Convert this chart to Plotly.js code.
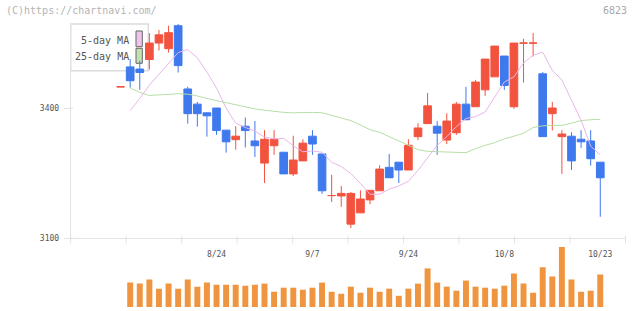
<!DOCTYPE html>
<html>
<head>
<meta charset="utf-8">
<script src="https://cdn.plot.ly/plotly-3.0.1.min.js"></script>
<style>
  html, body { margin: 0; padding: 0; background: #fff; }
  #chart { width: 640px; height: 311px; }
</style>
</head>
<body>
<div id="chart"></div>
<script>
// Daily prices, oldest session first (session 0 is the carry-over day before the window)
const openP  = [3449, 3495, 3490, 3512, 3550, 3537, 3590, 3444, 3409, 3389, 3400, 3349, 3327, 3358, 3324, 3273, 3313, 3298, 3248, 3278, 3335,
                3294, 3198, 3197, 3132, 3158, 3188, 3209, 3263, 3275, 3257, 3334, 3364, 3358, 3326, 3343, 3409, 3403, 3442, 3472, 3520,
                3403, 3550, 3550, 3479, 3387, 3334, 3335, 3328, 3324, 3275];
const highP  = [3449, 3513, 3509, 3573, 3580, 3590, 3594, 3449, 3414, 3389, 3400, 3349, 3358, 3378, 3370, 3349, 3349, 3298, 3336, 3328, 3349,
                3294, 3246, 3220, 3206, 3210, 3210, 3268, 3294, 3275, 3328, 3365, 3435, 3370, 3388, 3414, 3449, 3465, 3513, 3543, 3520,
                3550, 3560, 3573, 3483, 3414, 3349, 3344, 3349, 3349, 3275];
const lowP   = [3449, 3447, 3442, 3489, 3533, 3528, 3482, 3364, 3357, 3334, 3338, 3297, 3304, 3309, 3287, 3227, 3292, 3248, 3243, 3278, 3292,
                3202, 3183, 3172, 3123, 3158, 3178, 3209, 3239, 3227, 3257, 3326, 3364, 3292, 3317, 3338, 3373, 3403, 3428, 3472, 3442,
                3398, 3459, 3519, 3334, 3348, 3248, 3257, 3308, 3267, 3149];
const closeP = [3449, 3463, 3482, 3550, 3569, 3574, 3498, 3387, 3387, 3382, 3348, 3322, 3335, 3348, 3313, 3328, 3328, 3248, 3280, 3319, 3317,
                3209, 3198, 3203, 3203, 3190, 3210, 3259, 3239, 3257, 3314, 3354, 3405, 3342, 3370, 3409, 3373, 3460, 3513, 3543, 3452,
                3550, 3550, 3550, 3334, 3400, 3340, 3278, 3322, 3283, 3239];

// Moving averages
const ma5  = [null, 3394, 3422, 3453, 3478, 3503, 3528, 3535, 3516, 3483, 3446, 3400, 3365, 3355, 3347, 3333, 3329, 3330, 3313, 3299, 3301,
              3298, 3275, 3265, 3249, 3226, 3201, 3201, 3213, 3220, 3231, 3256, 3285, 3314, 3334, 3357, 3376, 3380, 3391, 3425, 3460,
              3472, 3504, 3522, 3529, 3487, 3465, 3418, 3372, 3312, 3292];
const ma25 = [null, 3446, 3436, 3429, 3430, 3431, 3433, 3432, 3428, 3422, 3417, 3412, 3407, 3403, 3398, 3395, 3392, 3390, 3389, 3390, 3390,
              3389, 3383, 3377, 3371, 3361, 3350, 3344, 3334, 3324, 3313, 3304, 3300, 3299, 3298, 3298, 3297, 3306, 3314, 3320, 3329,
              3335, 3342, 3355, 3359, 3360, 3360, 3365, 3371, 3373, 3374];

// Traded volume (shares)
const volume = [null, 7200, 6900, 8100, 5400, 6900, 5400, 8100, 6000, 7200, 6600, 6600, 6600, 6300, 6600, 6900, 4500, 5700, 5700, 5100, 5700,
                7200, 4500, 3900, 6000, 4200, 5700, 4500, 5400, 3300, 5400, 6900, 11400, 7200, 6000, 4800, 7800, 6000, 5700, 5400, 6300,
                9900, 6900, 4200, 11700, 9000, 17700, 8100, 4500, 4800, 9600];

// Axis labels
const dateTickPos  = [10, 20, 30, 40, 50];
const dateTickText = ['8/24', '9/7', '9/24', '10/8', '10/23'];
const priceTicks   = [3100, 3400];

const W = 640, H = 311;
const PL = 70.7, PR = 625.5;          // plot left / right (px)
const PT = 24, PB = 238;              // price pane top / bottom (px)
const VT = 247, VB = 307;             // volume pane top / bottom (px)

const RED = '#f2533f', BLUE = '#3f79ee', ORANGE = '#f0953f';
const AXIS = '#e3e3e3', TXT = '#555';
const MONO = 'DejaVu Sans Mono, monospace';

const session = openP.map((_, i) => i);
const rising = session.map(i => closeP[i] >= openP[i]);
const only = (arr, up) => arr.map((v, i) => (rising[i] === up ? v : null));

function candles(up, color) {
  const side = { line: { color: color, width: 1 }, fillcolor: color };
  return {
    type: 'candlestick', x: session,
    open: only(openP, up), high: only(highP, up), low: only(lowP, up), close: only(closeP, up),
    increasing: side, decreasing: side, whiskerwidth: 0,
    hoverinfo: 'skip', showlegend: false, xaxis: 'x', yaxis: 'y'
  };
}

const traces = [
  { type: 'scatter', mode: 'lines', x: session, y: ma25, line: { color: '#b7dea6', width: 1 },
    hoverinfo: 'skip', showlegend: false, xaxis: 'x', yaxis: 'y' },
  { type: 'scatter', mode: 'lines', x: session, y: ma5, line: { color: '#e8b6e9', width: 1 },
    hoverinfo: 'skip', showlegend: false, xaxis: 'x', yaxis: 'y' },
  candles(true, RED),
  candles(false, BLUE),
  { type: 'bar', x: session, y: volume, marker: { color: ORANGE, line: { width: 0 } },
    hoverinfo: 'skip', showlegend: false, xaxis: 'x', yaxis: 'y2' }
];

const px = v => v / W;
const py = v => 1 - v / H;

const shapes = [];
// legend frame and swatches
shapes.push({ type: 'rect', layer: 'below', xref: 'paper', yref: 'paper',
  x0: px(PL), x1: px(148.3), y0: py(70.7), y1: py(PT), fillcolor: '#fff', line: { color: '#dcdcdc', width: 1.5 } });
shapes.push({ type: 'rect', layer: 'below', xref: 'paper', yref: 'paper',
  x0: px(136), x1: px(142.3), y0: py(46.7), y1: py(31), fillcolor: '#eec4ee', line: { color: '#666', width: 1 } });
shapes.push({ type: 'rect', layer: 'below', xref: 'paper', yref: 'paper',
  x0: px(136), x1: px(142.3), y0: py(63.3), y1: py(48.3), fillcolor: '#c2e2b2', line: { color: '#666', width: 1 } });
// evenly spaced tick marks across the time axis
for (let k = 0; k <= 10; k++) {
  const xp = px(PL + k * (PR - PL) / 10);
  shapes.push({ type: 'line', xref: 'paper', yref: 'paper', ysizemode: 'pixel', yanchor: py(PB),
    x0: xp, x1: xp, y0: -5.5, y1: 2.5, line: { color: AXIS, width: 1 } });
}
// inner stubs of the price ticks
priceTicks.forEach(v => {
  shapes.push({ type: 'line', yref: 'y', xref: 'paper', xsizemode: 'pixel', xanchor: px(PL),
    y0: v, y1: v, x0: 0, x1: 2.5, line: { color: AXIS, width: 1 } });
});

const annotations = [
  { text: '(C)https://chartnavi.com/', xref: 'paper', yref: 'paper', x: px(4), y: py(11),
    xanchor: 'left', yanchor: 'middle', showarrow: false, font: { family: MONO, size: 10, color: '#b4b4b4' } },
  { text: '6823', xref: 'paper', yref: 'paper', x: px(629), y: py(11),
    xanchor: 'right', yanchor: 'middle', showarrow: false, font: { family: MONO, size: 10, color: '#a8a8a8' } },
  { text: '5-day MA', xref: 'paper', yref: 'paper', x: px(131), y: py(40),
    xanchor: 'right', yanchor: 'middle', showarrow: false, font: { family: MONO, size: 10, color: TXT } },
  { text: '25-day MA', xref: 'paper', yref: 'paper', x: px(131), y: py(56.5),
    xanchor: 'right', yanchor: 'middle', showarrow: false, font: { family: MONO, size: 10, color: TXT } }
];

const layout = {
  width: W, height: H,
  margin: { l: 0, r: 0, t: 0, b: 0 },
  paper_bgcolor: '#fff', plot_bgcolor: 'rgba(0,0,0,0)',
  showlegend: false,
  boxgap: 0.2, boxgroupgap: 0, bargap: 0.38,
  font: { family: MONO, size: 8, color: TXT },
  xaxis: {
    domain: [px(PL), px(PR)], range: [-5.2, 52.63], anchor: 'y',
    showgrid: false, zeroline: false, showline: true, linecolor: AXIS, linewidth: 1,
    tickmode: 'array', tickvals: dateTickPos, ticktext: dateTickText,
    ticks: '', ticklabelstandoff: 8, tickfont: { family: MONO, size: 8, color: TXT },
    rangeslider: { visible: false }, fixedrange: true
  },
  yaxis: {
    domain: [py(PB), py(PT)], range: [3100, 3594], anchor: 'x',
    showgrid: false, zeroline: false, showline: true, linecolor: AXIS, linewidth: 1,
    tickmode: 'array', tickvals: priceTicks,
    ticks: 'outside', ticklen: 6, tickcolor: AXIS, tickwidth: 1, ticklabelstandoff: 3,
    tickfont: { family: MONO, size: 8, color: TXT }, fixedrange: true
  },
  yaxis2: {
    domain: [py(VB), py(VT)], range: [0, 17700], anchor: 'x',
    visible: false, fixedrange: true
  },
  shapes: shapes,
  annotations: annotations
};

Plotly.newPlot('chart', traces, layout, { staticPlot: true, displayModeBar: false });
</script>
</body>
</html>
